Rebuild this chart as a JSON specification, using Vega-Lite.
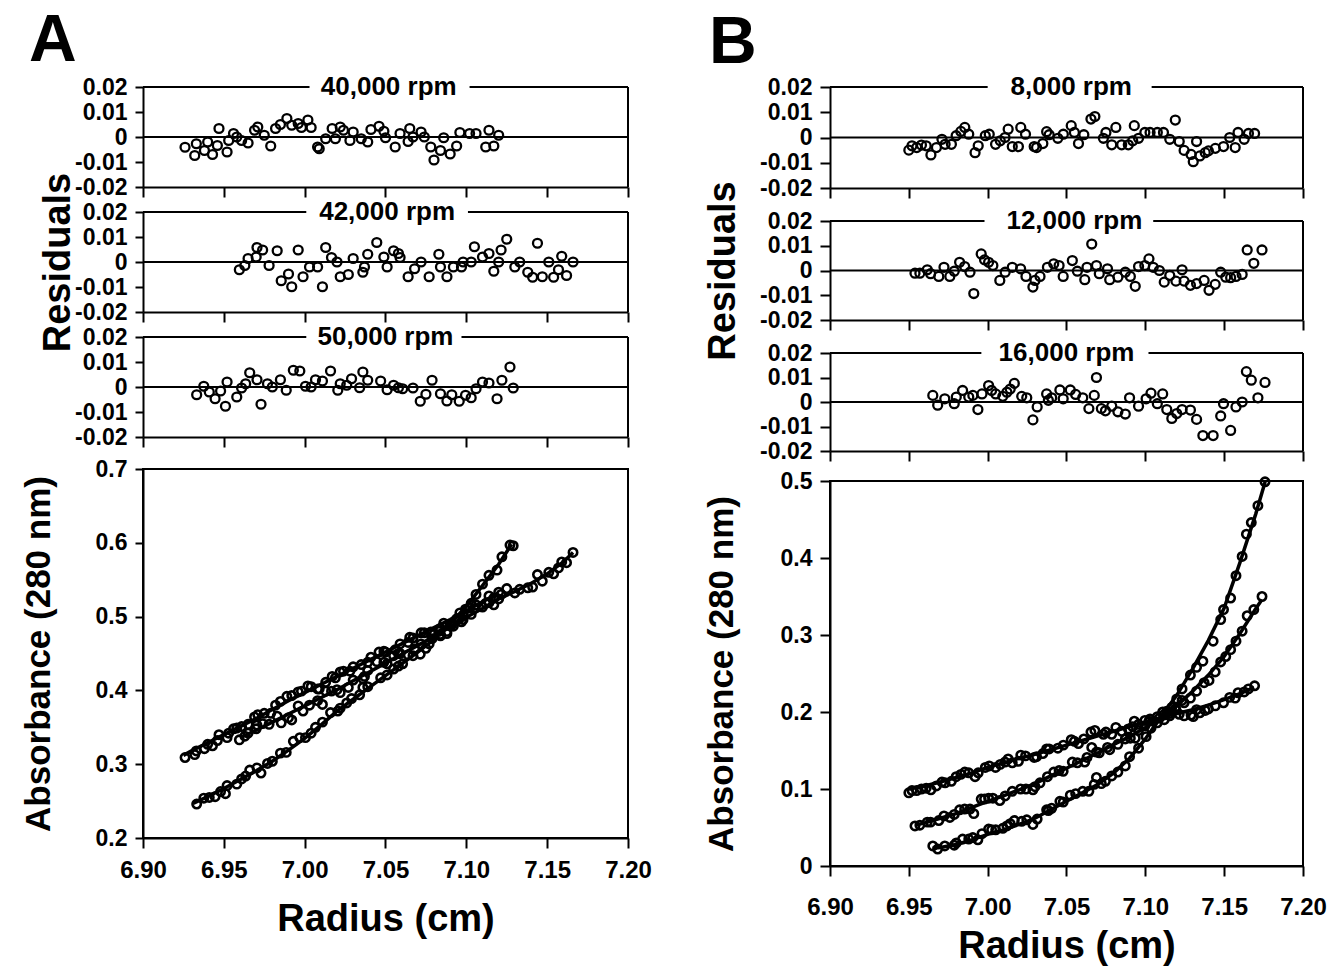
{
"$schema":"https://vega.github.io/schema/vega-lite/v6.json",
"background":"white",
"padding":{"left":20,"top":8,"right":0,"bottom":0},
"config":{
 "font":"Liberation Sans",
 "view":{"stroke":null},
 "axis":{"domainColor":"black","domainWidth":2,"tickColor":"black","tickWidth":2,"labelFont":"Liberation Sans","labelFontWeight":"bold","labelFontSize":23,"labelColor":"black","labelOverlap":false,"labelFlush":false,"titleFont":"Liberation Sans","titleFontWeight":"bold","titleFontSize":36,"titleColor":"black","grid":false},
 "title":{"font":"Liberation Sans","fontWeight":"bold","color":"black"},
 "point":{"shape":"circle","filled":false,"color":"black","strokeWidth":2.3,"opacity":1}
},
"datasets":{
"pts":[
{"s":"A40","r":6.926,"v":-0.0041,"a":0.309},{"s":"A40","r":6.932,"v":-0.0074,"a":0.313},{"s":"A40","r":6.933,"v":-0.0027,"a":0.318},{"s":"A40","r":6.938,"v":-0.0054,"a":0.321},{"s":"A40","r":6.940,"v":-0.0020,"a":0.327},{"s":"A40","r":6.943,"v":-0.0070,"a":0.325},{"s":"A40","r":6.946,"v":-0.0034,"a":0.332},{"s":"A40","r":6.947,"v":0.0034,"a":0.340},{"s":"A40","r":6.952,"v":-0.0060,"a":0.336},{"s":"A40","r":6.953,"v":-0.0014,"a":0.342},{"s":"A40","r":6.956,"v":0.0014,"a":0.348},{"s":"A40","r":6.958,"v":0.0000,"a":0.349},{"s":"A40","r":6.961,"v":-0.0014,"a":0.351},{"s":"A40","r":6.965,"v":-0.0024,"a":0.354},{"s":"A40","r":6.969,"v":0.0027,"a":0.364},{"s":"A40","r":6.971,"v":0.0040,"a":0.367},{"s":"A40","r":6.975,"v":0.0007,"a":0.369},{"s":"A40","r":6.979,"v":-0.0036,"a":0.369},{"s":"A40","r":6.982,"v":0.0034,"a":0.380},{"s":"A40","r":6.985,"v":0.0050,"a":0.385},{"s":"A40","r":6.989,"v":0.0074,"a":0.392},{"s":"A40","r":6.992,"v":0.0047,"a":0.393},{"s":"A40","r":6.996,"v":0.0054,"a":0.398},{"s":"A40","r":6.998,"v":0.0038,"a":0.399},{"s":"A40","r":7.002,"v":0.0068,"a":0.406},{"s":"A40","r":7.004,"v":0.0038,"a":0.405},{"s":"A40","r":7.008,"v":-0.0040,"a":0.402},{"s":"A40","r":7.009,"v":-0.0047,"a":0.402},{"s":"A40","r":7.013,"v":-0.0007,"a":0.411},{"s":"A40","r":7.017,"v":0.0034,"a":0.419},{"s":"A40","r":7.019,"v":-0.0007,"a":0.417},{"s":"A40","r":7.022,"v":0.0040,"a":0.425},{"s":"A40","r":7.024,"v":0.0027,"a":0.426},{"s":"A40","r":7.028,"v":-0.0014,"a":0.426},{"s":"A40","r":7.030,"v":0.0020,"a":0.432},{"s":"A40","r":7.035,"v":-0.0007,"a":0.435},{"s":"A40","r":7.039,"v":-0.0020,"a":0.438},{"s":"A40","r":7.041,"v":0.0030,"a":0.445},{"s":"A40","r":7.046,"v":0.0043,"a":0.452},{"s":"A40","r":7.049,"v":0.0023,"a":0.453},{"s":"A40","r":7.050,"v":-0.0003,"a":0.452},{"s":"A40","r":7.056,"v":-0.0040,"a":0.455},{"s":"A40","r":7.059,"v":0.0014,"a":0.463},{"s":"A40","r":7.064,"v":-0.0018,"a":0.465},{"s":"A40","r":7.065,"v":0.0034,"a":0.472},{"s":"A40","r":7.067,"v":0.0000,"a":0.471},{"s":"A40","r":7.072,"v":0.0020,"a":0.478},{"s":"A40","r":7.074,"v":0.0000,"a":0.478},{"s":"A40","r":7.078,"v":-0.0040,"a":0.479},{"s":"A40","r":7.080,"v":-0.0092,"a":0.476},{"s":"A40","r":7.084,"v":-0.0054,"a":0.484},{"s":"A40","r":7.086,"v":-0.0003,"a":0.491},{"s":"A40","r":7.090,"v":-0.0068,"a":0.489},{"s":"A40","r":7.094,"v":-0.0036,"a":0.497},{"s":"A40","r":7.096,"v":0.0018,"a":0.505},{"s":"A40","r":7.102,"v":0.0014,"a":0.512},{"s":"A40","r":7.106,"v":0.0014,"a":0.516},{"s":"A40","r":7.112,"v":-0.0040,"a":0.518},{"s":"A40","r":7.114,"v":0.0027,"a":0.528},{"s":"A40","r":7.117,"v":-0.0036,"a":0.525},{"s":"A40","r":7.120,"v":0.0007,"a":0.533},
{"s":"A42","r":6.9596,"v":-0.0031,"a":0.333},{"s":"A42","r":6.963,"v":-0.0014,"a":0.338},{"s":"A42","r":6.965,"v":0.0014,"a":0.342},{"s":"A42","r":6.970,"v":0.0020,"a":0.348},{"s":"A42","r":6.9705,"v":0.0058,"a":0.353},{"s":"A42","r":6.974,"v":0.0048,"a":0.355},{"s":"A42","r":6.978,"v":-0.0014,"a":0.354},{"s":"A42","r":6.983,"v":0.0045,"a":0.365},{"s":"A42","r":6.9855,"v":-0.0075,"a":0.356},{"s":"A42","r":6.990,"v":-0.0048,"a":0.363},{"s":"A42","r":6.992,"v":-0.0099,"a":0.360},{"s":"A42","r":6.996,"v":0.0048,"a":0.379},{"s":"A42","r":6.999,"v":-0.0059,"a":0.372},{"s":"A42","r":7.003,"v":-0.0020,"a":0.380},{"s":"A42","r":7.008,"v":-0.0020,"a":0.386},{"s":"A42","r":7.011,"v":-0.0099,"a":0.381},{"s":"A42","r":7.013,"v":0.0058,"a":0.399},{"s":"A42","r":7.0166,"v":0.0018,"a":0.399},{"s":"A42","r":7.020,"v":0.0000,"a":0.401},{"s":"A42","r":7.022,"v":-0.0059,"a":0.397},{"s":"A42","r":7.027,"v":-0.0050,"a":0.404},{"s":"A42","r":7.030,"v":0.0014,"a":0.414},{"s":"A42","r":7.036,"v":-0.0041,"a":0.416},{"s":"A42","r":7.037,"v":-0.0020,"a":0.419},{"s":"A42","r":7.039,"v":0.0031,"a":0.427},{"s":"A42","r":7.0446,"v":0.0078,"a":0.439},{"s":"A42","r":7.049,"v":0.0020,"a":0.438},{"s":"A42","r":7.051,"v":-0.0020,"a":0.436},{"s":"A42","r":7.055,"v":0.0045,"a":0.447},{"s":"A42","r":7.058,"v":0.0034,"a":0.450},{"s":"A42","r":7.059,"v":0.0018,"a":0.450},{"s":"A42","r":7.064,"v":-0.0059,"a":0.448},{"s":"A42","r":7.068,"v":-0.0027,"a":0.456},{"s":"A42","r":7.072,"v":0.0000,"a":0.463},{"s":"A42","r":7.077,"v":-0.0059,"a":0.463},{"s":"A42","r":7.083,"v":0.0031,"a":0.480},{"s":"A42","r":7.084,"v":-0.0020,"a":0.476},{"s":"A42","r":7.088,"v":-0.0059,"a":0.477},{"s":"A42","r":7.092,"v":-0.0020,"a":0.487},{"s":"A42","r":7.097,"v":-0.0020,"a":0.493},{"s":"A42","r":7.098,"v":0.0000,"a":0.496},{"s":"A42","r":7.103,"v":0.0000,"a":0.503},{"s":"A42","r":7.105,"v":0.0061,"a":0.511},{"s":"A42","r":7.110,"v":0.0020,"a":0.513},{"s":"A42","r":7.114,"v":0.0034,"a":0.519},{"s":"A42","r":7.117,"v":-0.0037,"a":0.516},{"s":"A42","r":7.120,"v":0.0000,"a":0.524},{"s":"A42","r":7.1215,"v":0.0048,"a":0.530},{"s":"A42","r":7.125,"v":0.0091,"a":0.538},{"s":"A42","r":7.130,"v":-0.0020,"a":0.532},{"s":"A42","r":7.133,"v":0.0000,"a":0.537},{"s":"A42","r":7.138,"v":-0.0041,"a":0.539},{"s":"A42","r":7.141,"v":-0.0061,"a":0.540},{"s":"A42","r":7.144,"v":0.0075,"a":0.557},{"s":"A42","r":7.147,"v":-0.0059,"a":0.548},{"s":"A42","r":7.151,"v":0.0000,"a":0.560},{"s":"A42","r":7.154,"v":-0.0061,"a":0.558},{"s":"A42","r":7.157,"v":-0.0031,"a":0.566},{"s":"A42","r":7.159,"v":0.0023,"a":0.574},{"s":"A42","r":7.162,"v":-0.0054,"a":0.573},{"s":"A42","r":7.166,"v":0.0000,"a":0.587},
{"s":"A50","r":6.9332,"v":-0.0031,"a":0.246},{"s":"A50","r":6.9376,"v":0.0003,"a":0.254},{"s":"A50","r":6.941,"v":-0.0020,"a":0.255},{"s":"A50","r":6.9446,"v":-0.0047,"a":0.256},{"s":"A50","r":6.948,"v":-0.0016,"a":0.263},{"s":"A50","r":6.951,"v":-0.0077,"a":0.260},{"s":"A50","r":6.952,"v":0.0020,"a":0.271},{"s":"A50","r":6.958,"v":-0.0040,"a":0.273},{"s":"A50","r":6.961,"v":-0.0004,"a":0.280},{"s":"A50","r":6.9635,"v":0.0013,"a":0.284},{"s":"A50","r":6.966,"v":0.0057,"a":0.292},{"s":"A50","r":6.9705,"v":0.0029,"a":0.295},{"s":"A50","r":6.973,"v":-0.0069,"a":0.288},{"s":"A50","r":6.977,"v":0.0013,"a":0.301},{"s":"A50","r":6.980,"v":0.0000,"a":0.304},{"s":"A50","r":6.985,"v":0.0029,"a":0.315},{"s":"A50","r":6.9886,"v":-0.0013,"a":0.316},{"s":"A50","r":6.993,"v":0.0067,"a":0.331},{"s":"A50","r":6.997,"v":0.0064,"a":0.336},{"s":"A50","r":7.0005,"v":0.0003,"a":0.336},{"s":"A50","r":7.004,"v":0.0000,"a":0.342},{"s":"A50","r":7.0067,"v":0.0029,"a":0.350},{"s":"A50","r":7.011,"v":0.0024,"a":0.357},{"s":"A50","r":7.016,"v":0.0064,"a":0.370},{"s":"A50","r":7.0205,"v":-0.0013,"a":0.372},{"s":"A50","r":7.022,"v":0.0013,"a":0.376},{"s":"A50","r":7.026,"v":0.0007,"a":0.383},{"s":"A50","r":7.029,"v":0.0033,"a":0.389},{"s":"A50","r":7.034,"v":-0.0003,"a":0.394},{"s":"A50","r":7.036,"v":0.0060,"a":0.404},{"s":"A50","r":7.039,"v":0.0027,"a":0.405},{"s":"A50","r":7.047,"v":0.0024,"a":0.417},{"s":"A50","r":7.051,"v":-0.0011,"a":0.421},{"s":"A50","r":7.055,"v":0.0007,"a":0.429},{"s":"A50","r":7.058,"v":-0.0003,"a":0.433},{"s":"A50","r":7.0606,"v":-0.0007,"a":0.436},{"s":"A50","r":7.067,"v":-0.0004,"a":0.447},{"s":"A50","r":7.0715,"v":-0.0057,"a":0.449},{"s":"A50","r":7.075,"v":-0.0029,"a":0.457},{"s":"A50","r":7.0788,"v":0.0027,"a":0.470},{"s":"A50","r":7.084,"v":-0.0027,"a":0.474},{"s":"A50","r":7.088,"v":-0.0056,"a":0.480},{"s":"A50","r":7.091,"v":-0.0031,"a":0.489},{"s":"A50","r":7.0956,"v":-0.0057,"a":0.497},{"s":"A50","r":7.0995,"v":-0.0033,"a":0.510},{"s":"A50","r":7.103,"v":-0.0043,"a":0.518},{"s":"A50","r":7.106,"v":-0.0007,"a":0.530},{"s":"A50","r":7.110,"v":0.0020,"a":0.544},{"s":"A50","r":7.114,"v":0.0016,"a":0.556},{"s":"A50","r":7.119,"v":-0.0047,"a":0.563},{"s":"A50","r":7.122,"v":0.0027,"a":0.581},{"s":"A50","r":7.127,"v":0.0080,"a":0.597},{"s":"A50","r":7.129,"v":-0.0004,"a":0.596},
{"s":"B8","r":6.950,"v":-0.0050,"a":0.095},{"s":"B8","r":6.952,"v":-0.0033,"a":0.098},{"s":"B8","r":6.955,"v":-0.0040,"a":0.098},{"s":"B8","r":6.958,"v":-0.0030,"a":0.100},{"s":"B8","r":6.961,"v":-0.0033,"a":0.101},{"s":"B8","r":6.964,"v":-0.0069,"a":0.099},{"s":"B8","r":6.9675,"v":-0.0040,"a":0.104},{"s":"B8","r":6.971,"v":-0.0007,"a":0.109},{"s":"B8","r":6.973,"v":-0.0027,"a":0.108},{"s":"B8","r":6.977,"v":-0.0027,"a":0.110},{"s":"B8","r":6.980,"v":0.0007,"a":0.116},{"s":"B8","r":6.983,"v":0.0024,"a":0.119},{"s":"B8","r":6.9855,"v":0.0040,"a":0.122},{"s":"B8","r":6.988,"v":0.0013,"a":0.121},{"s":"B8","r":6.992,"v":-0.0060,"a":0.116},{"s":"B8","r":6.994,"v":-0.0033,"a":0.121},{"s":"B8","r":6.9985,"v":0.0007,"a":0.128},{"s":"B8","r":7.001,"v":0.0013,"a":0.130},{"s":"B8","r":7.005,"v":-0.0027,"a":0.128},{"s":"B8","r":7.008,"v":-0.0013,"a":0.132},{"s":"B8","r":7.011,"v":0.0000,"a":0.135},{"s":"B8","r":7.013,"v":0.0033,"a":0.139},{"s":"B8","r":7.0156,"v":-0.0036,"a":0.134},{"s":"B8","r":7.0195,"v":-0.0036,"a":0.136},{"s":"B8","r":7.021,"v":0.0040,"a":0.144},{"s":"B8","r":7.024,"v":0.0013,"a":0.143},{"s":"B8","r":7.0295,"v":-0.0036,"a":0.141},{"s":"B8","r":7.031,"v":-0.0040,"a":0.142},{"s":"B8","r":7.035,"v":-0.0024,"a":0.146},{"s":"B8","r":7.0374,"v":0.0023,"a":0.152},{"s":"B8","r":7.039,"v":0.0011,"a":0.152},{"s":"B8","r":7.0445,"v":-0.0003,"a":0.153},{"s":"B8","r":7.048,"v":0.0013,"a":0.157},{"s":"B8","r":7.053,"v":0.0047,"a":0.164},{"s":"B8","r":7.055,"v":0.0020,"a":0.162},{"s":"B8","r":7.0576,"v":-0.0024,"a":0.159},{"s":"B8","r":7.061,"v":0.0011,"a":0.165},{"s":"B8","r":7.0655,"v":0.0073,"a":0.174},{"s":"B8","r":7.068,"v":0.0083,"a":0.176},{"s":"B8","r":7.0734,"v":-0.0003,"a":0.171},{"s":"B8","r":7.075,"v":0.0020,"a":0.174},{"s":"B8","r":7.0787,"v":-0.0029,"a":0.171},{"s":"B8","r":7.0813,"v":0.0040,"a":0.180},{"s":"B8","r":7.085,"v":-0.0029,"a":0.175},{"s":"B8","r":7.0892,"v":-0.0029,"a":0.178},{"s":"B8","r":7.092,"v":-0.0013,"a":0.181},{"s":"B8","r":7.093,"v":0.0047,"a":0.188},{"s":"B8","r":7.0957,"v":-0.0003,"a":0.184},{"s":"B8","r":7.0997,"v":0.0020,"a":0.189},{"s":"B8","r":7.103,"v":0.0020,"a":0.191},{"s":"B8","r":7.1076,"v":0.0020,"a":0.194},{"s":"B8","r":7.1115,"v":0.0020,"a":0.196},{"s":"B8","r":7.1155,"v":-0.0007,"a":0.195},{"s":"B8","r":7.119,"v":0.0069,"a":0.204},{"s":"B8","r":7.1215,"v":-0.0016,"a":0.197},{"s":"B8","r":7.1246,"v":-0.0051,"a":0.195},{"s":"B8","r":7.129,"v":-0.0067,"a":0.196},{"s":"B8","r":7.1304,"v":-0.0096,"a":0.194},{"s":"B8","r":7.1325,"v":-0.0016,"a":0.203},{"s":"B8","r":7.1346,"v":-0.0073,"a":0.199},{"s":"B8","r":7.138,"v":-0.0060,"a":0.202},{"s":"B8","r":7.140,"v":-0.0053,"a":0.204},{"s":"B8","r":7.1444,"v":-0.0043,"a":0.208},{"s":"B8","r":7.1496,"v":-0.0036,"a":0.212},{"s":"B8","r":7.1535,"v":0.0000,"a":0.219},{"s":"B8","r":7.157,"v":-0.0040,"a":0.218},{"s":"B8","r":7.1588,"v":0.0020,"a":0.225},{"s":"B8","r":7.1627,"v":-0.0007,"a":0.226},{"s":"B8","r":7.1654,"v":0.0016,"a":0.230},{"s":"B8","r":7.1693,"v":0.0016,"a":0.234},
{"s":"B12","r":6.9539,"v":-0.0011,"a":0.052},{"s":"B12","r":6.957,"v":-0.0011,"a":0.053},{"s":"B12","r":6.9617,"v":0.0003,"a":0.057},{"s":"B12","r":6.9638,"v":-0.0013,"a":0.057},{"s":"B12","r":6.969,"v":-0.0024,"a":0.059},{"s":"B12","r":6.9723,"v":0.0013,"a":0.065},{"s":"B12","r":6.976,"v":-0.0024,"a":0.063},{"s":"B12","r":6.9788,"v":-0.0003,"a":0.067},{"s":"B12","r":6.9822,"v":0.0033,"a":0.073},{"s":"B12","r":6.9854,"v":0.0016,"a":0.074},{"s":"B12","r":6.9888,"v":-0.0007,"a":0.074},{"s":"B12","r":6.9912,"v":-0.0093,"a":0.068},{"s":"B12","r":6.9959,"v":0.0067,"a":0.087},{"s":"B12","r":6.998,"v":0.0043,"a":0.087},{"s":"B12","r":7.0006,"v":0.0033,"a":0.088},{"s":"B12","r":7.0033,"v":0.0020,"a":0.088},{"s":"B12","r":7.0077,"v":-0.0040,"a":0.085},{"s":"B12","r":7.0111,"v":-0.0007,"a":0.091},{"s":"B12","r":7.0156,"v":0.0013,"a":0.097},{"s":"B12","r":7.0209,"v":0.0007,"a":0.100},{"s":"B12","r":7.0243,"v":-0.0024,"a":0.100},{"s":"B12","r":7.0287,"v":-0.0067,"a":0.099},{"s":"B12","r":7.0300,"v":-0.0040,"a":0.103},{"s":"B12","r":7.0332,"v":-0.0024,"a":0.108},{"s":"B12","r":7.0379,"v":0.0013,"a":0.116},{"s":"B12","r":7.0419,"v":0.0027,"a":0.122},{"s":"B12","r":7.0453,"v":0.0020,"a":0.124},{"s":"B12","r":7.0479,"v":-0.0024,"a":0.123},{"s":"B12","r":7.0537,"v":0.0040,"a":0.135},{"s":"B12","r":7.0569,"v":-0.0003,"a":0.134},{"s":"B12","r":7.0616,"v":-0.0037,"a":0.135},{"s":"B12","r":7.063,"v":0.0013,"a":0.141},{"s":"B12","r":7.066,"v":0.0107,"a":0.154},{"s":"B12","r":7.069,"v":0.0020,"a":0.148},{"s":"B12","r":7.0708,"v":-0.0013,"a":0.147},{"s":"B12","r":7.076,"v":0.0007,"a":0.154},{"s":"B12","r":7.0774,"v":-0.0037,"a":0.151},{"s":"B12","r":7.0826,"v":-0.0027,"a":0.158},{"s":"B12","r":7.0873,"v":-0.0007,"a":0.165},{"s":"B12","r":7.0905,"v":-0.0024,"a":0.166},{"s":"B12","r":7.0936,"v":-0.0064,"a":0.166},{"s":"B12","r":7.0957,"v":0.0016,"a":0.176},{"s":"B12","r":7.0997,"v":0.0020,"a":0.182},{"s":"B12","r":7.1023,"v":0.0047,"a":0.188},{"s":"B12","r":7.105,"v":0.0013,"a":0.188},{"s":"B12","r":7.1089,"v":0.0000,"a":0.192},{"s":"B12","r":7.112,"v":-0.0047,"a":0.190},{"s":"B12","r":7.1155,"v":-0.0020,"a":0.198},{"s":"B12","r":7.1194,"v":-0.0043,"a":0.203},{"s":"B12","r":7.1233,"v":0.0003,"a":0.215},{"s":"B12","r":7.1246,"v":-0.0043,"a":0.212},{"s":"B12","r":7.1286,"v":-0.0060,"a":0.218},{"s":"B12","r":7.1325,"v":-0.0053,"a":0.227},{"s":"B12","r":7.1373,"v":-0.0040,"a":0.238},{"s":"B12","r":7.1404,"v":-0.0080,"a":0.241},{"s":"B12","r":7.1443,"v":-0.0056,"a":0.252},{"s":"B12","r":7.1478,"v":-0.0007,"a":0.265},{"s":"B12","r":7.151,"v":-0.0027,"a":0.272},{"s":"B12","r":7.1541,"v":-0.0029,"a":0.281},{"s":"B12","r":7.1575,"v":-0.0024,"a":0.292},{"s":"B12","r":7.1614,"v":-0.0016,"a":0.305},{"s":"B12","r":7.1646,"v":0.0083,"a":0.325},{"s":"B12","r":7.1688,"v":0.0029,"a":0.333},{"s":"B12","r":7.174,"v":0.0083,"a":0.350},
{"s":"B16","r":6.9652,"v":0.0027,"a":0.026},{"s":"B16","r":6.9683,"v":-0.0013,"a":0.022},{"s":"B16","r":6.9728,"v":0.0013,"a":0.026},{"s":"B16","r":6.9788,"v":-0.0007,"a":0.027},{"s":"B16","r":6.9801,"v":0.0020,"a":0.030},{"s":"B16","r":6.9841,"v":0.0047,"a":0.035},{"s":"B16","r":6.988,"v":0.0020,"a":0.035},{"s":"B16","r":6.9906,"v":0.0027,"a":0.037},{"s":"B16","r":6.9938,"v":-0.0031,"a":0.034},{"s":"B16","r":6.9964,"v":0.0033,"a":0.042},{"s":"B16","r":7.0006,"v":0.0067,"a":0.048},{"s":"B16","r":7.0025,"v":0.0047,"a":0.047},{"s":"B16","r":7.0051,"v":0.0033,"a":0.047},{"s":"B16","r":7.0096,"v":0.0023,"a":0.049},{"s":"B16","r":7.0122,"v":0.0040,"a":0.052},{"s":"B16","r":7.0143,"v":0.0053,"a":0.055},{"s":"B16","r":7.0169,"v":0.0076,"a":0.059},{"s":"B16","r":7.0216,"v":0.0023,"a":0.058},{"s":"B16","r":7.0248,"v":0.0017,"a":0.060},{"s":"B16","r":7.0287,"v":-0.0073,"a":0.054},{"s":"B16","r":7.0314,"v":-0.0020,"a":0.061},{"s":"B16","r":7.0374,"v":0.0033,"a":0.073},{"s":"B16","r":7.0385,"v":0.0007,"a":0.072},{"s":"B16","r":7.0406,"v":0.0017,"a":0.075},{"s":"B16","r":7.0458,"v":0.0049,"a":0.084},{"s":"B16","r":7.0479,"v":0.0013,"a":0.083},{"s":"B16","r":7.0524,"v":0.0049,"a":0.092},{"s":"B16","r":7.0558,"v":0.0031,"a":0.094},{"s":"B16","r":7.0603,"v":0.0017,"a":0.097},{"s":"B16","r":7.0642,"v":-0.0027,"a":0.097},{"s":"B16","r":7.0676,"v":0.0027,"a":0.106},{"s":"B16","r":7.069,"v":0.0100,"a":0.115},{"s":"B16","r":7.0721,"v":-0.0027,"a":0.107},{"s":"B16","r":7.0747,"v":-0.0036,"a":0.110},{"s":"B16","r":7.0787,"v":-0.0017,"a":0.117},{"s":"B16","r":7.0826,"v":-0.0040,"a":0.122},{"s":"B16","r":7.0873,"v":-0.0049,"a":0.130},{"s":"B16","r":7.090,"v":0.0017,"a":0.142},{"s":"B16","r":7.0957,"v":-0.0017,"a":0.153},{"s":"B16","r":7.1005,"v":0.0013,"a":0.168},{"s":"B16","r":7.1036,"v":0.0036,"a":0.179},{"s":"B16","r":7.1076,"v":-0.0007,"a":0.186},{"s":"B16","r":7.111,"v":0.0033,"a":0.200},{"s":"B16","r":7.1136,"v":-0.0031,"a":0.201},{"s":"B16","r":7.1168,"v":-0.0067,"a":0.206},{"s":"B16","r":7.1199,"v":-0.0047,"a":0.217},{"s":"B16","r":7.1233,"v":-0.0031,"a":0.230},{"s":"B16","r":7.1286,"v":-0.0033,"a":0.248},{"s":"B16","r":7.1325,"v":-0.0071,"a":0.258},{"s":"B16","r":7.1365,"v":-0.0137,"a":0.266},{"s":"B16","r":7.143,"v":-0.0137,"a":0.292},{"s":"B16","r":7.1478,"v":-0.0057,"a":0.320},{"s":"B16","r":7.1496,"v":-0.0007,"a":0.333},{"s":"B16","r":7.1541,"v":-0.0116,"a":0.348},{"s":"B16","r":7.1575,"v":-0.0020,"a":0.377},{"s":"B16","r":7.1614,"v":0.0000,"a":0.402},{"s":"B16","r":7.1641,"v":0.0124,"a":0.431},{"s":"B16","r":7.1672,"v":0.0089,"a":0.446},{"s":"B16","r":7.1714,"v":0.0017,"a":0.468},{"s":"B16","r":7.1759,"v":0.0080,"a":0.499}
],
"fit":[
{"s":"A40","r":6.925,"a":0.312},{"s":"A40","r":6.93,"a":0.318},{"s":"A40","r":6.94,"a":0.329},{"s":"A40","r":6.95,"a":0.340},{"s":"A40","r":6.96,"a":0.351},{"s":"A40","r":6.97,"a":0.362},{"s":"A40","r":6.98,"a":0.374},{"s":"A40","r":6.99,"a":0.386},{"s":"A40","r":7.00,"a":0.397},{"s":"A40","r":7.01,"a":0.408},{"s":"A40","r":7.02,"a":0.419},{"s":"A40","r":7.03,"a":0.430},{"s":"A40","r":7.04,"a":0.441},{"s":"A40","r":7.05,"a":0.452},{"s":"A40","r":7.06,"a":0.463},{"s":"A40","r":7.07,"a":0.474},{"s":"A40","r":7.08,"a":0.485},{"s":"A40","r":7.09,"a":0.496},{"s":"A40","r":7.10,"a":0.508},{"s":"A40","r":7.11,"a":0.520},{"s":"A40","r":7.12,"a":0.532},
{"s":"A42","r":6.96,"a":0.336},{"s":"A42","r":6.97,"a":0.346},{"s":"A42","r":6.98,"a":0.357},{"s":"A42","r":6.99,"a":0.368},{"s":"A42","r":7.00,"a":0.379},{"s":"A42","r":7.01,"a":0.390},{"s":"A42","r":7.02,"a":0.401},{"s":"A42","r":7.03,"a":0.413},{"s":"A42","r":7.04,"a":0.425},{"s":"A42","r":7.05,"a":0.437},{"s":"A42","r":7.06,"a":0.449},{"s":"A42","r":7.07,"a":0.461},{"s":"A42","r":7.08,"a":0.473},{"s":"A42","r":7.09,"a":0.486},{"s":"A42","r":7.10,"a":0.499},{"s":"A42","r":7.11,"a":0.511},{"s":"A42","r":7.12,"a":0.524},{"s":"A42","r":7.13,"a":0.534},{"s":"A42","r":7.14,"a":0.545},{"s":"A42","r":7.15,"a":0.558},{"s":"A42","r":7.16,"a":0.574},{"s":"A42","r":7.166,"a":0.587},
{"s":"A50","r":6.931,"a":0.247},{"s":"A50","r":6.94,"a":0.256},{"s":"A50","r":6.95,"a":0.267},{"s":"A50","r":6.96,"a":0.279},{"s":"A50","r":6.97,"a":0.291},{"s":"A50","r":6.98,"a":0.304},{"s":"A50","r":6.99,"a":0.319},{"s":"A50","r":7.00,"a":0.335},{"s":"A50","r":7.01,"a":0.353},{"s":"A50","r":7.02,"a":0.372},{"s":"A50","r":7.03,"a":0.388},{"s":"A50","r":7.04,"a":0.404},{"s":"A50","r":7.05,"a":0.420},{"s":"A50","r":7.06,"a":0.436},{"s":"A50","r":7.07,"a":0.452},{"s":"A50","r":7.08,"a":0.469},{"s":"A50","r":7.09,"a":0.490},{"s":"A50","r":7.10,"a":0.514},{"s":"A50","r":7.11,"a":0.542},{"s":"A50","r":7.12,"a":0.571},{"s":"A50","r":7.128,"a":0.598},
{"s":"B8","r":6.95,"a":0.100},{"s":"B8","r":6.96,"a":0.104},{"s":"B8","r":6.97,"a":0.109},{"s":"B8","r":6.98,"a":0.115},{"s":"B8","r":6.99,"a":0.121},{"s":"B8","r":7.00,"a":0.128},{"s":"B8","r":7.01,"a":0.134},{"s":"B8","r":7.02,"a":0.140},{"s":"B8","r":7.03,"a":0.145},{"s":"B8","r":7.04,"a":0.151},{"s":"B8","r":7.05,"a":0.157},{"s":"B8","r":7.06,"a":0.163},{"s":"B8","r":7.07,"a":0.169},{"s":"B8","r":7.08,"a":0.175},{"s":"B8","r":7.09,"a":0.181},{"s":"B8","r":7.10,"a":0.187},{"s":"B8","r":7.11,"a":0.193},{"s":"B8","r":7.12,"a":0.198},{"s":"B8","r":7.13,"a":0.203},{"s":"B8","r":7.14,"a":0.209},{"s":"B8","r":7.15,"a":0.216},{"s":"B8","r":7.16,"a":0.224},{"s":"B8","r":7.169,"a":0.232},
{"s":"B12","r":6.954,"a":0.053},{"s":"B12","r":6.96,"a":0.056},{"s":"B12","r":6.97,"a":0.062},{"s":"B12","r":6.98,"a":0.068},{"s":"B12","r":6.99,"a":0.076},{"s":"B12","r":7.00,"a":0.084},{"s":"B12","r":7.01,"a":0.091},{"s":"B12","r":7.02,"a":0.099},{"s":"B12","r":7.03,"a":0.107},{"s":"B12","r":7.04,"a":0.117},{"s":"B12","r":7.05,"a":0.127},{"s":"B12","r":7.06,"a":0.137},{"s":"B12","r":7.07,"a":0.147},{"s":"B12","r":7.08,"a":0.158},{"s":"B12","r":7.09,"a":0.168},{"s":"B12","r":7.10,"a":0.180},{"s":"B12","r":7.11,"a":0.193},{"s":"B12","r":7.12,"a":0.208},{"s":"B12","r":7.13,"a":0.227},{"s":"B12","r":7.14,"a":0.248},{"s":"B12","r":7.15,"a":0.272},{"s":"B12","r":7.16,"a":0.302},{"s":"B12","r":7.17,"a":0.334},{"s":"B12","r":7.174,"a":0.346},
{"s":"B16","r":6.965,"a":0.023},{"s":"B16","r":6.97,"a":0.024},{"s":"B16","r":6.98,"a":0.028},{"s":"B16","r":6.99,"a":0.034},{"s":"B16","r":7.00,"a":0.041},{"s":"B16","r":7.01,"a":0.047},{"s":"B16","r":7.02,"a":0.054},{"s":"B16","r":7.03,"a":0.062},{"s":"B16","r":7.04,"a":0.073},{"s":"B16","r":7.05,"a":0.084},{"s":"B16","r":7.06,"a":0.095},{"s":"B16","r":7.07,"a":0.106},{"s":"B16","r":7.08,"a":0.121},{"s":"B16","r":7.09,"a":0.140},{"s":"B16","r":7.10,"a":0.165},{"s":"B16","r":7.11,"a":0.194},{"s":"B16","r":7.12,"a":0.222},{"s":"B16","r":7.13,"a":0.256},{"s":"B16","r":7.14,"a":0.293},{"s":"B16","r":7.15,"a":0.335},{"s":"B16","r":7.16,"a":0.394},{"s":"B16","r":7.17,"a":0.457},{"s":"B16","r":7.176,"a":0.499}
]
},
"spacing":50,
"hconcat":[
{"spacing":8,"vconcat":[
 {"spacing":25,"bounds":"flush","vconcat":[
  {"width":485,"height":100,
   "title":{"text":"A","anchor":"start","fontSize":66,"dx":-114,"offset":-1,"frame":"group"},
   "layer":[
    {"data":{"name":"pts"},"transform":[{"filter":"datum.s=='A40'"}],"mark":{"type":"point","size":80},
     "encoding":{"x":{"field":"r","type":"quantitative","scale":{"domain":[6.9,7.2],"nice":false,"zero":false},"axis":{"values":[6.9,6.95,7,7.05,7.1,7.15,7.2],"labels":false,"tickSize":10,"title":null}},
                 "y":{"field":"v","type":"quantitative","scale":{"domain":[-0.02,0.02],"nice":false,"zero":false},"axis":{"values":[-0.02,-0.01,0,0.01,0.02],"tickCount":5,"labelOverlap":false,"tickSize":8,"labelPadding":8,"labelExpr":"datum.value == 0 ? '0' : (datum.value < 0 ? '-' + format(-datum.value, '.2f') : format(datum.value, '.2f'))","title":null}}}},
    {"data":{"values":[{}]},"mark":{"type":"rule","color":"black","strokeWidth":2},"encoding":{"y":{"datum":0}}},
    {"data":{"values":[{}]},"mark":{"type":"rule","color":"black","strokeWidth":2},"encoding":{"x":{"datum":7.2}}},
    {"data":{"values":[{}]},"mark":{"type":"rule","color":"black","strokeWidth":2},"encoding":{"x":{"datum":6.9},"x2":{"datum":7.003},"y":{"datum":0.02}}},
    {"data":{"values":[{}]},"mark":{"type":"rule","color":"black","strokeWidth":2},"encoding":{"x":{"datum":7.102},"x2":{"datum":7.2},"y":{"datum":0.02}}},
    {"data":{"values":[{}]},"mark":{"type":"text","text":"40,000 rpm","font":"Liberation Sans","fontSize":26,"fontWeight":"bold","color":"black","baseline":"middle"},"encoding":{"x":{"datum":7.052},"y":{"datum":0.02}}}
   ]},
  {"width":485,"height":100,
   "layer":[
    {"data":{"name":"pts"},"transform":[{"filter":"datum.s=='A42'"}],"mark":{"type":"point","size":80},
     "encoding":{"x":{"field":"r","type":"quantitative","scale":{"domain":[6.9,7.2],"nice":false,"zero":false},"axis":{"values":[6.9,6.95,7,7.05,7.1,7.15,7.2],"labels":false,"tickSize":10,"title":null}},
                 "y":{"field":"v","type":"quantitative","scale":{"domain":[-0.02,0.02],"nice":false,"zero":false},"axis":{"values":[-0.02,-0.01,0,0.01,0.02],"tickCount":5,"labelOverlap":false,"tickSize":8,"labelPadding":8,"labelExpr":"datum.value == 0 ? '0' : (datum.value < 0 ? '-' + format(-datum.value, '.2f') : format(datum.value, '.2f'))","title":"Residuals","titleFontSize":38,"titlePadding":-3}}}},
    {"data":{"values":[{}]},"mark":{"type":"rule","color":"black","strokeWidth":2},"encoding":{"y":{"datum":0}}},
    {"data":{"values":[{}]},"mark":{"type":"rule","color":"black","strokeWidth":2},"encoding":{"x":{"datum":7.2}}},
    {"data":{"values":[{}]},"mark":{"type":"rule","color":"black","strokeWidth":2},"encoding":{"x":{"datum":6.9},"x2":{"datum":7.001},"y":{"datum":0.02}}},
    {"data":{"values":[{}]},"mark":{"type":"rule","color":"black","strokeWidth":2},"encoding":{"x":{"datum":7.101},"x2":{"datum":7.2},"y":{"datum":0.02}}},
    {"data":{"values":[{}]},"mark":{"type":"text","text":"42,000 rpm","font":"Liberation Sans","fontSize":26,"fontWeight":"bold","color":"black","baseline":"middle"},"encoding":{"x":{"datum":7.051},"y":{"datum":0.02}}}
   ]},
  {"width":485,"height":100,
   "layer":[
    {"data":{"name":"pts"},"transform":[{"filter":"datum.s=='A50'"}],"mark":{"type":"point","size":80},
     "encoding":{"x":{"field":"r","type":"quantitative","scale":{"domain":[6.9,7.2],"nice":false,"zero":false},"axis":{"values":[6.9,6.95,7,7.05,7.1,7.15,7.2],"labels":false,"tickSize":10,"title":null}},
                 "y":{"field":"v","type":"quantitative","scale":{"domain":[-0.02,0.02],"nice":false,"zero":false},"axis":{"values":[-0.02,-0.01,0,0.01,0.02],"tickCount":5,"labelOverlap":false,"tickSize":8,"labelPadding":8,"labelExpr":"datum.value == 0 ? '0' : (datum.value < 0 ? '-' + format(-datum.value, '.2f') : format(datum.value, '.2f'))","title":null}}}},
    {"data":{"values":[{}]},"mark":{"type":"rule","color":"black","strokeWidth":2},"encoding":{"y":{"datum":0}}},
    {"data":{"values":[{}]},"mark":{"type":"rule","color":"black","strokeWidth":2},"encoding":{"x":{"datum":7.2}}},
    {"data":{"values":[{}]},"mark":{"type":"rule","color":"black","strokeWidth":2},"encoding":{"x":{"datum":6.9},"x2":{"datum":7.001},"y":{"datum":0.02}}},
    {"data":{"values":[{}]},"mark":{"type":"rule","color":"black","strokeWidth":2},"encoding":{"x":{"datum":7.097},"x2":{"datum":7.2},"y":{"datum":0.02}}},
    {"data":{"values":[{}]},"mark":{"type":"text","text":"50,000 rpm","font":"Liberation Sans","fontSize":26,"fontWeight":"bold","color":"black","baseline":"middle"},"encoding":{"x":{"datum":7.05},"y":{"datum":0.02}}}
   ]}
 ]},
 {"width":485,"height":369,"view":{"stroke":"black","strokeWidth":2},
  "layer":[
   {"data":{"name":"fit"},"transform":[{"filter":{"field":"s","oneOf":["A40","A42","A50"]}}],"mark":{"type":"line","color":"black","strokeWidth":3.5},
    "encoding":{"x":{"field":"r","type":"quantitative","scale":{"domain":[6.9,7.2],"nice":false,"zero":false},"axis":{"values":[6.9,6.95,7,7.05,7.1,7.15,7.2],"format":".2f","labelFontSize":24,"tickSize":10,"labelPadding":10,"title":"Radius (cm)","titleFontSize":38,"titlePadding":18}},
                "y":{"field":"a","type":"quantitative","scale":{"domain":[0.2,0.7],"nice":false,"zero":false},"axis":{"values":[0.2,0.3,0.4,0.5,0.6,0.7],"format":".1f","tickSize":8,"labelPadding":8,"title":"Absorbance (280 nm)","titleFontSize":35,"titlePadding":39}},
                "detail":{"field":"s"}}},
   {"data":{"name":"pts"},"transform":[{"filter":{"field":"s","oneOf":["A40","A42","A50"]}}],"mark":{"type":"point","size":70,"strokeWidth":2.6},
    "encoding":{"x":{"field":"r","type":"quantitative"},"y":{"field":"a","type":"quantitative"}}}
  ]}
]},
{"spacing":6,"vconcat":[
 {"spacing":33,"bounds":"flush","vconcat":[
  {"width":473,"height":101,
   "title":{"text":"B","anchor":"start","fontSize":66,"dx":-121,"offset":-3,"frame":"group"},
   "layer":[
    {"data":{"name":"pts"},"transform":[{"filter":"datum.s=='B8'"}],"mark":{"type":"point","size":80},
     "encoding":{"x":{"field":"r","type":"quantitative","scale":{"domain":[6.9,7.2],"nice":false,"zero":false},"axis":{"values":[6.9,6.95,7,7.05,7.1,7.15,7.2],"labels":false,"tickSize":10,"title":null}},
                 "y":{"field":"v","type":"quantitative","scale":{"domain":[-0.02,0.02],"nice":false,"zero":false},"axis":{"values":[-0.02,-0.01,0,0.01,0.02],"tickCount":5,"labelOverlap":false,"tickSize":10,"labelPadding":8,"labelExpr":"datum.value == 0 ? '0' : (datum.value < 0 ? '-' + format(-datum.value, '.2f') : format(datum.value, '.2f'))","title":null}}}},
    {"data":{"values":[{}]},"mark":{"type":"rule","color":"black","strokeWidth":2},"encoding":{"y":{"datum":0}}},
    {"data":{"values":[{}]},"mark":{"type":"rule","color":"black","strokeWidth":2},"encoding":{"x":{"datum":7.2}}},
    {"data":{"values":[{}]},"mark":{"type":"rule","color":"black","strokeWidth":2},"encoding":{"x":{"datum":6.9},"x2":{"datum":7.0},"y":{"datum":0.02}}},
    {"data":{"values":[{}]},"mark":{"type":"rule","color":"black","strokeWidth":2},"encoding":{"x":{"datum":7.104},"x2":{"datum":7.2},"y":{"datum":0.02}}},
    {"data":{"values":[{}]},"mark":{"type":"text","text":"8,000 rpm","font":"Liberation Sans","fontSize":26,"fontWeight":"bold","color":"black","baseline":"middle"},"encoding":{"x":{"datum":7.053},"y":{"datum":0.02}}}
   ]},
  {"width":473,"height":99,
   "layer":[
    {"data":{"name":"pts"},"transform":[{"filter":"datum.s=='B12'"}],"mark":{"type":"point","size":80},
     "encoding":{"x":{"field":"r","type":"quantitative","scale":{"domain":[6.9,7.2],"nice":false,"zero":false},"axis":{"values":[6.9,6.95,7,7.05,7.1,7.15,7.2],"labels":false,"tickSize":10,"title":null}},
                 "y":{"field":"v","type":"quantitative","scale":{"domain":[-0.02,0.02],"nice":false,"zero":false},"axis":{"values":[-0.02,-0.01,0,0.01,0.02],"tickCount":5,"labelOverlap":false,"tickSize":10,"labelPadding":8,"labelExpr":"datum.value == 0 ? '0' : (datum.value < 0 ? '-' + format(-datum.value, '.2f') : format(datum.value, '.2f'))","title":"Residuals","titleFontSize":38,"titlePadding":17}}}},
    {"data":{"values":[{}]},"mark":{"type":"rule","color":"black","strokeWidth":2},"encoding":{"y":{"datum":0}}},
    {"data":{"values":[{}]},"mark":{"type":"rule","color":"black","strokeWidth":2},"encoding":{"x":{"datum":7.2}}},
    {"data":{"values":[{}]},"mark":{"type":"rule","color":"black","strokeWidth":2},"encoding":{"x":{"datum":6.9},"x2":{"datum":6.998},"y":{"datum":0.02}}},
    {"data":{"values":[{}]},"mark":{"type":"rule","color":"black","strokeWidth":2},"encoding":{"x":{"datum":7.105},"x2":{"datum":7.2},"y":{"datum":0.02}}},
    {"data":{"values":[{}]},"mark":{"type":"text","text":"12,000 rpm","font":"Liberation Sans","fontSize":26,"fontWeight":"bold","color":"black","baseline":"middle"},"encoding":{"x":{"datum":7.055},"y":{"datum":0.02}}}
   ]},
  {"width":473,"height":98,
   "layer":[
    {"data":{"name":"pts"},"transform":[{"filter":"datum.s=='B16'"}],"mark":{"type":"point","size":80},
     "encoding":{"x":{"field":"r","type":"quantitative","scale":{"domain":[6.9,7.2],"nice":false,"zero":false},"axis":{"values":[6.9,6.95,7,7.05,7.1,7.15,7.2],"labels":false,"tickSize":10,"title":null}},
                 "y":{"field":"v","type":"quantitative","scale":{"domain":[-0.02,0.02],"nice":false,"zero":false},"axis":{"values":[-0.02,-0.01,0,0.01,0.02],"tickCount":5,"labelOverlap":false,"tickSize":10,"labelPadding":8,"labelExpr":"datum.value == 0 ? '0' : (datum.value < 0 ? '-' + format(-datum.value, '.2f') : format(datum.value, '.2f'))","title":null}}}},
    {"data":{"values":[{}]},"mark":{"type":"rule","color":"black","strokeWidth":2},"encoding":{"y":{"datum":0}}},
    {"data":{"values":[{}]},"mark":{"type":"rule","color":"black","strokeWidth":2},"encoding":{"x":{"datum":7.2}}},
    {"data":{"values":[{}]},"mark":{"type":"rule","color":"black","strokeWidth":2},"encoding":{"x":{"datum":6.9},"x2":{"datum":6.996},"y":{"datum":0.02}}},
    {"data":{"values":[{}]},"mark":{"type":"rule","color":"black","strokeWidth":2},"encoding":{"x":{"datum":7.102},"x2":{"datum":7.2},"y":{"datum":0.02}}},
    {"data":{"values":[{}]},"mark":{"type":"text","text":"16,000 rpm","font":"Liberation Sans","fontSize":26,"fontWeight":"bold","color":"black","baseline":"middle"},"encoding":{"x":{"datum":7.05},"y":{"datum":0.02}}}
   ]}
 ]},
 {"width":473,"height":385,"view":{"stroke":"black","strokeWidth":2},
  "layer":[
   {"data":{"name":"fit"},"transform":[{"filter":{"field":"s","oneOf":["B8","B12","B16"]}}],"mark":{"type":"line","color":"black","strokeWidth":3.5},
    "encoding":{"x":{"field":"r","type":"quantitative","scale":{"domain":[6.9,7.2],"nice":false,"zero":false},"axis":{"values":[6.9,6.95,7,7.05,7.1,7.15,7.2],"format":".2f","labelFontSize":24,"tickSize":10,"labelPadding":19,"title":"Radius (cm)","titleFontSize":38,"titlePadding":8}},
                "y":{"field":"a","type":"quantitative","scale":{"domain":[0,0.5],"nice":false,"zero":false},"axis":{"values":[0,0.1,0.2,0.3,0.4,0.5],"labelExpr":"datum.value == 0 ? '0' : format(datum.value, '.1f')","tickSize":10,"labelPadding":8,"title":"Absorbance (280 nm)","titleFontSize":35,"titlePadding":41}},
                "detail":{"field":"s"}}},
   {"data":{"name":"pts"},"transform":[{"filter":{"field":"s","oneOf":["B8","B12","B16"]}}],"mark":{"type":"point","size":70,"strokeWidth":2.6},
    "encoding":{"x":{"field":"r","type":"quantitative"},"y":{"field":"a","type":"quantitative"}}}
  ]}
]}
]
}
